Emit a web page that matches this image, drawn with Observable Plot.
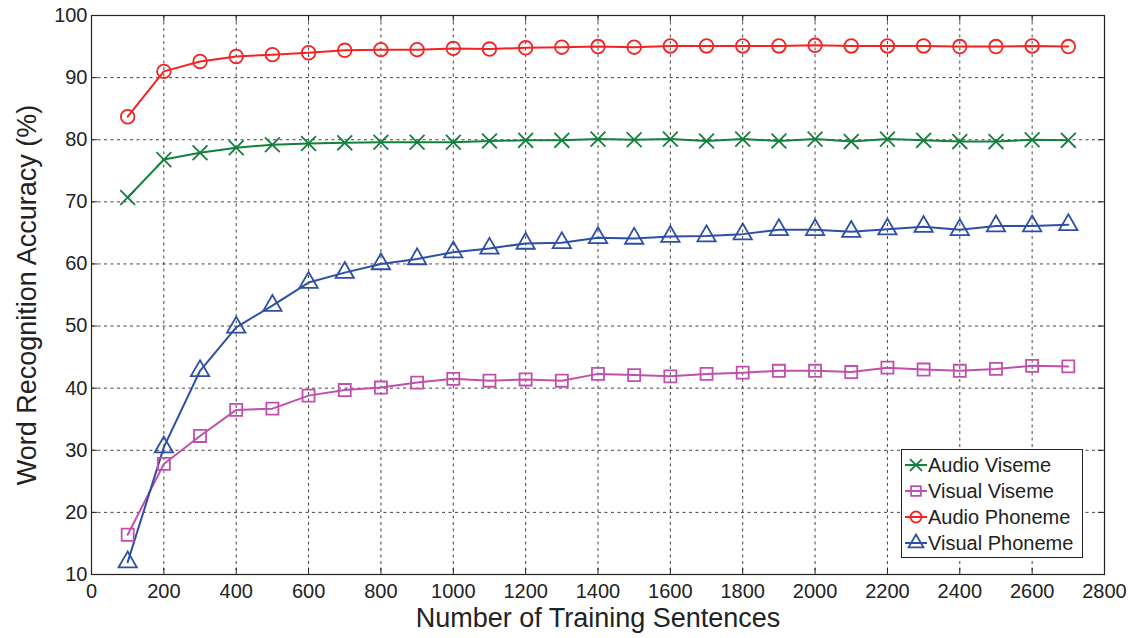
<!DOCTYPE html>
<html><head><meta charset="utf-8">
<script src="https://cdn.jsdelivr.net/npm/d3@7"></script>
<script src="https://cdn.jsdelivr.net/npm/@observablehq/plot@0.6"></script>
<style>
body{margin:0;background:#fff;font-family:"Liberation Sans",Arial,sans-serif;}
#wrap{position:relative;width:1133px;height:638px;}
#legend{position:absolute;left:901px;top:449px;width:182px;height:109px;border:1.2px solid #222;background:#fff;box-sizing:border-box;padding-top:2px;}
.row{display:flex;align-items:center;height:26px;font-size:20px;color:#222;}
.row svg{margin-left:2px;margin-right:0px;}
</style></head>
<body><div id="wrap"></div>
<script>
const sentences = [100,200,300,400,500,600,700,800,900,1000,1100,1200,1300,1400,1500,1600,1700,1800,1900,2000,2100,2200,2300,2400,2500,2600,2700];
const seriesNames = ["Audio Viseme","Visual Viseme","Audio Phoneme","Visual Phoneme"];
const audioViseme = [70.7,76.8,77.9,78.7,79.2,79.4,79.5,79.6,79.6,79.6,79.8,79.9,79.9,80.1,80.0,80.1,79.8,80.1,79.8,80.1,79.7,80.1,79.9,79.7,79.7,80.0,79.9];
const visualViseme = [16.4,27.8,32.3,36.5,36.7,38.8,39.7,40.1,40.9,41.5,41.2,41.4,41.2,42.3,42.1,41.9,42.3,42.5,42.8,42.8,42.6,43.3,43.0,42.8,43.1,43.6,43.5];
const audioPhoneme = [83.7,91.0,92.6,93.4,93.7,94.0,94.4,94.5,94.5,94.7,94.6,94.8,94.9,95.0,94.9,95.1,95.1,95.1,95.1,95.2,95.1,95.1,95.1,95.0,95.0,95.1,95.0];
const visualPhoneme = [12.0,30.5,42.8,49.8,53.3,57.0,58.6,60.0,60.8,61.9,62.5,63.3,63.4,64.2,64.1,64.4,64.5,64.8,65.5,65.5,65.2,65.6,66.0,65.5,66.1,66.1,66.3];
const xTicks = [0,200,400,600,800,1000,1200,1400,1600,1800,2000,2200,2400,2600,2800];
const yTicks = [10,20,30,40,50,60,70,80,90,100];
const colors = ["#13803c","#c24fac","#f42323","#2d4fa6"];
const symbols = ["times","square","circle","triangle"];

const allSeries = [audioViseme, visualViseme, audioPhoneme, visualPhoneme];
const data = allSeries.flatMap((vals, i) => vals.map((v, j) => ({series: seriesNames[i], x: sentences[j], y: v})));

const W = 1133, H = 638, mL = 91, mR = 29, mT = 15, mB = 64;
const innerH = H - mT - mB, innerW = W - mL - mR;
const tk = 6;

const chart = Plot.plot({
  width: W, height: H,
  marginLeft: mL, marginRight: mR, marginTop: mT, marginBottom: mB,
  style: {fontFamily: "'Liberation Sans', Arial, sans-serif", background: "#fff", color: "#222"},
  x: {domain: [0, 2800]},
  y: {domain: [10, 100]},
  color: {domain: seriesNames, range: colors},
  symbol: {domain: seriesNames, range: symbols},
  marks: [
    Plot.gridX(xTicks.slice(1, -1), {stroke: "#222", strokeOpacity: 0.85, strokeDasharray: "3,3.5", strokeWidth: 1}),
    Plot.gridY(yTicks.slice(1, -1), {stroke: "#222", strokeOpacity: 0.85, strokeDasharray: "3,3.5", strokeWidth: 1}),
    Plot.tickX(xTicks, {x: d => d, insetTop: innerH - tk, stroke: "#222"}),
    Plot.tickX(xTicks, {x: d => d, insetBottom: innerH - tk, stroke: "#222"}),
    Plot.tickY(yTicks, {y: d => d, insetRight: innerW - tk, stroke: "#222"}),
    Plot.tickY(yTicks, {y: d => d, insetLeft: innerW - tk, stroke: "#222"}),
    Plot.axisX(xTicks, {tickSize: 0, tickPadding: 9, fontSize: 20, tickFormat: d3.format("d"), label: null}),
    Plot.axisY(yTicks, {tickSize: 0, tickPadding: 4, fontSize: 20, tickFormat: d3.format("d"), label: null}),
    Plot.axisX({ticks: [], label: "Number of Training Sentences", labelAnchor: "center", labelArrow: "none", labelOffset: 52, fontSize: 27}),
    Plot.axisY({ticks: [], label: "Word Recognition Accuracy (%)", labelAnchor: "center", labelArrow: "none", labelOffset: 75, fontSize: 27}),
    Plot.line(data, {x: "x", y: "y", z: "series", stroke: "series", strokeWidth: 2}),
    Plot.dot(data, {x: "x", y: "y", stroke: "series", symbol: "series", r: 6.8, strokeWidth: 1.8, fill: "none"}),
    Plot.frame({stroke: "#222", strokeWidth: 1.2})
  ]
});
document.getElementById("wrap").appendChild(chart);

// legend
const legend = document.createElement("div");
legend.id = "legend";
const symGen = {times: d3.symbolTimes, square: d3.symbolSquare, circle: d3.symbolCircle, triangle: d3.symbolTriangle};
seriesNames.forEach((name, i) => {
  const row = document.createElement("div");
  row.className = "row";
  const s = d3.create("svg").attr("width", 24).attr("height", 22);
  s.append("line").attr("x1", 1).attr("x2", 23).attr("y1", 11).attr("y2", 11).attr("stroke", colors[i]).attr("stroke-width", 2);
  s.append("path").attr("transform", "translate(12,11)")
    .attr("d", d3.symbol(symGen[symbols[i]], Math.PI * 5.5 * 5.5)())
    .attr("fill", "none").attr("stroke", colors[i]).attr("stroke-width", 1.8);
  row.appendChild(s.node());
  const t = document.createElement("span");
  t.textContent = name;
  row.appendChild(t);
  legend.appendChild(row);
});
document.getElementById("wrap").appendChild(legend);
</script></body></html>
